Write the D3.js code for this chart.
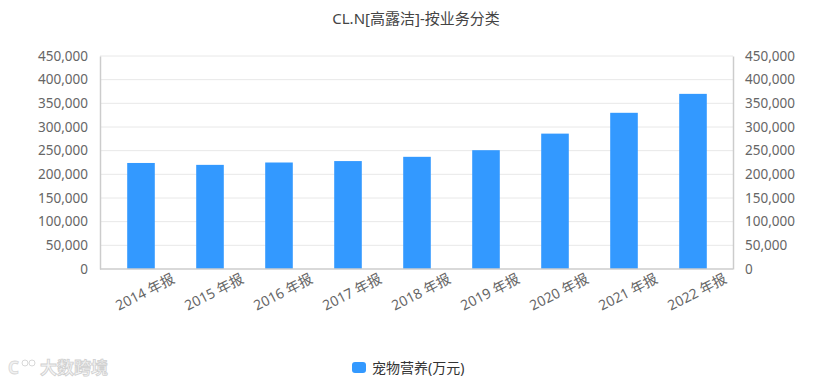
<!DOCTYPE html>
<html>
<head>
<meta charset="utf-8">
<script src="https://cdn.jsdelivr.net/npm/d3@7"></script>
<style>
body { margin: 0; background: #fff; }
text { font-family: "Noto Sans", "Noto Sans CJK SC", sans-serif; }
</style>
</head>
<body>
<div id="chart"></div>
<script>
// data
var years = ["2014 年报", "2015 年报", "2016 年报", "2017 年报", "2018 年报", "2019 年报", "2020 年报", "2021 年报", "2022 年报"];
var petNutrition = [224000, 220000, 225000, 228000, 237000, 251000, 286000, 330000, 370000];
var yTicks = [0, 50000, 100000, 150000, 200000, 250000, 300000, 350000, 400000, 450000];
var seriesName = "宠物营养(万元)";
var titleText = "CL.N[高露洁]-按业务分类";

var W = 831, H = 384;
var plotLeft = 100, plotRight = 733, plotTop = 56, plotBottom = 269;

var svg = d3.select("#chart").append("svg")
    .attr("width", W).attr("height", H);

var x = d3.scaleBand().domain(years).range([106.5, 727.5]).paddingInner(0.6).paddingOuter(0.3);
var y = d3.scaleLinear().domain([0, 450000]).range([plotBottom, plotTop]);
var fmt = d3.format(",");

// grid
svg.append("g").selectAll("line")
    .data(yTicks.slice(1))
    .enter().append("line")
    .attr("x1", plotLeft).attr("x2", plotRight)
    .attr("y1", function(d) { return y(d); })
    .attr("y2", function(d) { return y(d); })
    .attr("stroke", "#e8e8e8").attr("stroke-width", 1);

// left axis
var yl = svg.append("g").attr("transform", "translate(" + plotLeft + ",0)")
    .call(d3.axisLeft(y).tickValues(yTicks).tickFormat(fmt).tickSize(0).tickPadding(12));
yl.select(".domain").attr("stroke", "#cccccc").attr("stroke-width", 1.5);
yl.selectAll("text").attr("fill", "#666").style("font-size", "13.5px");

// right axis
var yr = svg.append("g").attr("transform", "translate(" + plotRight + ",0)")
    .call(d3.axisRight(y).tickValues(yTicks).tickFormat(fmt).tickSize(0).tickPadding(12));
yr.select(".domain").attr("stroke", "#cccccc").attr("stroke-width", 1.5);
yr.selectAll("text").attr("fill", "#666").style("font-size", "13.5px");

// bars
svg.append("g").selectAll("rect")
    .data(petNutrition)
    .enter().append("rect")
    .attr("x", function(d, i) { return x(years[i]); })
    .attr("width", x.bandwidth())
    .attr("y", function(d) { return y(d); })
    .attr("height", function(d) { return y(0) - y(d); })
    .attr("fill", "#3399ff");

// bottom axis
var xa = svg.append("g").attr("transform", "translate(0," + plotBottom + ")")
    .call(d3.axisBottom(x).tickSize(0).tickPadding(0));
xa.select(".domain").attr("d", "M" + plotLeft + ",0H" + plotRight).attr("stroke", "#cccccc").attr("stroke-width", 1.5);
xa.selectAll("text")
    .attr("fill", "#666").style("font-size", "14px")
    .attr("text-anchor", "middle")
    .attr("y", 0)
    .attr("dy", "0.35em")
    .attr("transform", "translate(4,23) rotate(-27)");

// title
svg.append("text")
    .attr("x", 416).attr("y", 24)
    .attr("text-anchor", "middle")
    .attr("fill", "#444")
    .style("font-size", "15px")
    .text(titleText);

// legend
var lg = svg.append("g").attr("transform", "translate(352,362)");
lg.append("rect").attr("width", 14).attr("height", 11).attr("rx", 3).attr("fill", "#3399ff");
lg.append("text").attr("x", 20).attr("y", 6).attr("dy", "0.35em")
    .attr("fill", "#333").style("font-size", "14px").text(seriesName);

// watermark
var wm = svg.append("g").attr("transform", "translate(8,368)");
wm.append("text").attr("x", 0).attr("y", 0).attr("dy", "0.35em")
    .attr("fill", "#f2f2f2").attr("stroke", "#d8d8d8").attr("stroke-width", 0.8)
    .style("font-size", "17px").style("font-weight", "bold").text("C");
wm.append("circle").attr("cx", 17).attr("cy", -5).attr("r", 3).attr("fill", "none").attr("stroke", "#d8d8d8");
wm.append("circle").attr("cx", 24).attr("cy", -5).attr("r", 3).attr("fill", "none").attr("stroke", "#d8d8d8");
wm.append("text").attr("x", 32).attr("y", 0).attr("dy", "0.35em")
    .attr("fill", "#f5f5f5").attr("stroke", "#d0d0d0").attr("stroke-width", 0.8)
    .style("font-size", "17px").style("font-weight", "bold").text("大数跨境");
</script>
</body>
</html>
